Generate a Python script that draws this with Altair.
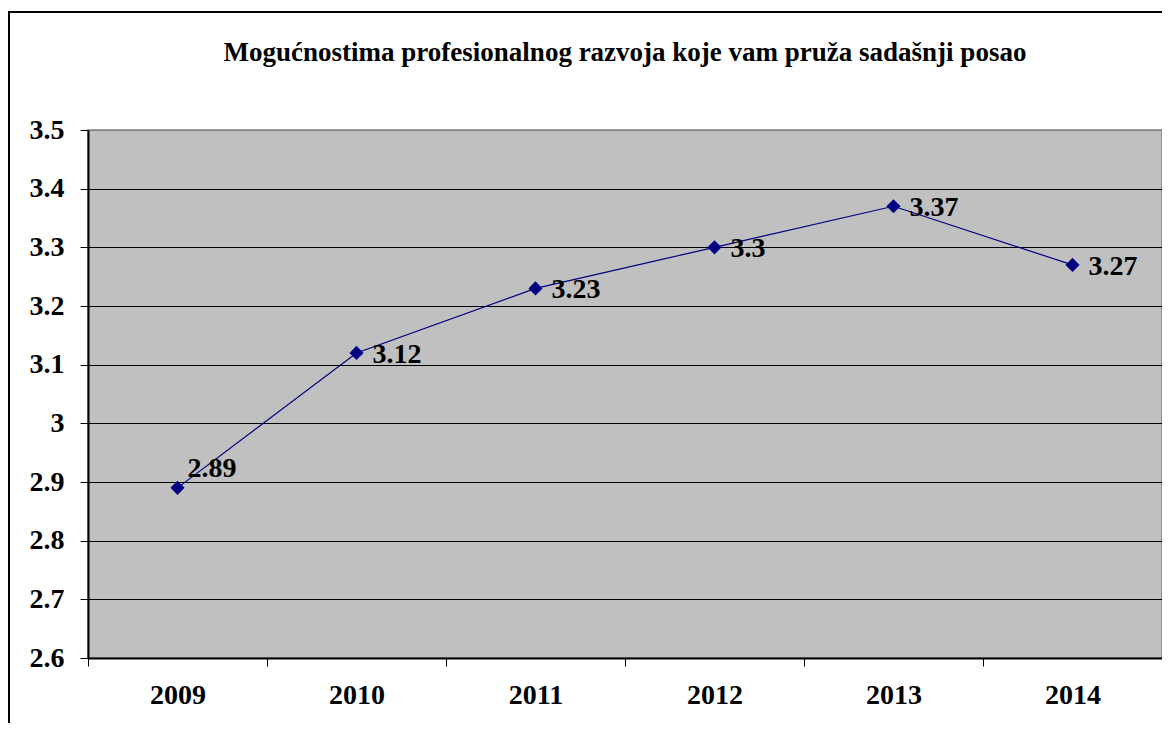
import altair as alt
import pandas as pd

years = ["2009", "2010", "2011", "2012", "2013", "2014"]
values = [2.89, 3.12, 3.23, 3.3, 3.37, 3.27]
labels = ["2.89", "3.12", "3.23", "3.3", "3.37", "3.27"]
y_ticks = [2.6, 2.7, 2.8, 2.9, 3.0, 3.1, 3.2, 3.3, 3.4, 3.5]
title = "Mogućnostima profesionalnog razvoja koje vam pruža sadašnji posao"

df = pd.DataFrame({"year": years, "value": values, "label": labels})

FONT = "Liberation Serif"
NAVY = "#000080"

x_enc = alt.X("year:N", title=None,
              scale=alt.Scale(paddingInner=0, paddingOuter=0),
              axis=alt.Axis(labelAngle=0, tickBand="extent", labelFont=FONT,
                            labelFontSize=28, labelFontWeight="bold", labelColor="black",
                            labelPadding=15, tickSize=8, tickColor="black",
                            domainColor="black", domainWidth=2, grid=False))
y_enc = alt.Y("value:Q", title=None,
              scale=alt.Scale(domain=[2.6, 3.5], nice=False, zero=False),
              axis=alt.Axis(values=y_ticks, format=".1~f", labelFont=FONT,
                            labelFontSize=28, labelFontWeight="bold", labelColor="black",
                            labelPadding=16, tickSize=8, tickColor="black",
                            domainColor="black", domainWidth=2,
                            gridColor={"condition": {"test": "datum.value >= 3.5", "value": "#808080"}, "value": "black"},
                            gridWidth=1))

base = alt.Chart(df)

line = base.mark_line(color=NAVY, strokeWidth=1.2).encode(x=x_enc, y=y_enc)
pts = base.mark_point(shape="diamond", filled=True, color=NAVY, size=200, opacity=1).encode(x="year:N", y="value:Q")
txt = base.transform_filter("datum.year != '2009'").mark_text(
    align="left", baseline="middle", dx=16, dy=2, font=FONT, fontSize=28,
    fontWeight="bold", color="black").encode(x="year:N", y="value:Q", text="label:N")
txt0 = base.transform_filter("datum.year == '2009'").mark_text(
    align="left", baseline="middle", dx=10, dy=-19, font=FONT, fontSize=28,
    fontWeight="bold", color="black").encode(x="year:N", y="value:Q", text="label:N")

border = alt.Chart(pd.DataFrame({"a": [0]})).mark_rect(
    fill=None, stroke="black", strokeWidth=2).encode(
    x=alt.value(-79), x2=alt.value(1200), y=alt.value(-118), y2=alt.value(700))

chart = alt.layer(line, pts, txt, txt0, border).properties(
    width=1074, height=528,
    title=alt.TitleParams(title, font=FONT, fontSize=27, fontWeight="bold",
                          color="black", anchor="middle", offset=-56),
    padding={"left": 80, "top": 122, "right": 0, "bottom": 65},
    autosize=alt.AutoSizeParams(type="none"),
    background="white",
).configure_view(fill="#C0C0C0", stroke="#808080", strokeWidth=1.5)

chart.save("out.html", embed_options={"renderer": "svg", "actions": False})
